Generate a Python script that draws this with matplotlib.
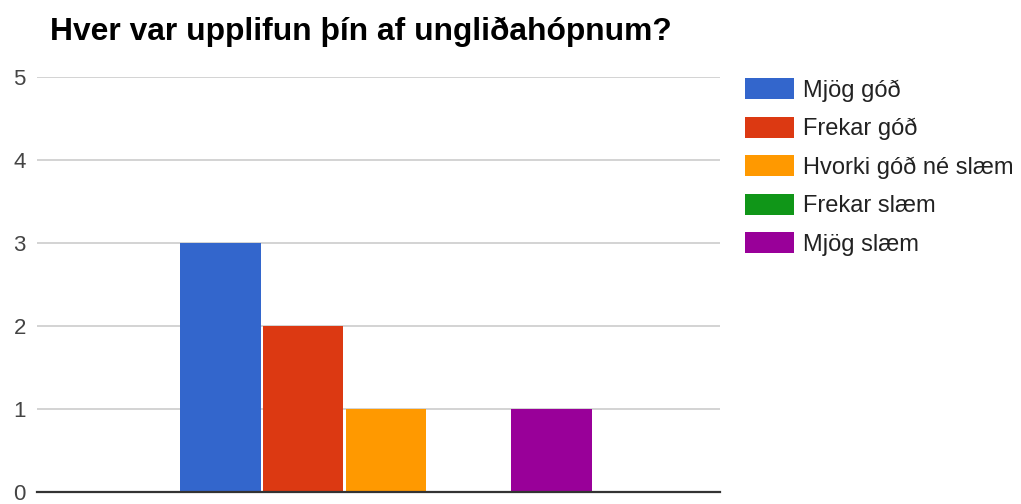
import matplotlib.pyplot as plt

plt.rcParams['font.family'] = ['Liberation Sans', 'DejaVu Sans']

labels = ['Mjög góð', 'Frekar góð', 'Hvorki góð né slæm', 'Frekar slæm', 'Mjög slæm']
counts = [3, 2, 1, 0, 1]
colors = ['#3366cc', '#dc3912', '#ff9900', '#109618', '#990099']
yticks = [0, 1, 2, 3, 4, 5]

fig = plt.figure(figsize=(10.21, 5.04), dpi=100)
ax = fig.add_axes([37 / 1021, 12 / 504, (720 - 37) / 1021, 415 / 504])

for i in range(len(labels)):
    ax.bar(i, counts[i], width=0.975, color=colors[i], label=labels[i], zorder=3)

ax.set_xlim(-2.21, 6.03)
ax.set_ylim(0, 5)
ax.set_yticks(yticks)
ax.set_xticks([])
ax.grid(axis='y', color='#cccccc', linewidth=1.2, zorder=0)
ax.tick_params(axis='y', length=0, labelsize=16, labelcolor='#444444', pad=8)
for s in ['top', 'right', 'left']:
    ax.spines[s].set_visible(False)
ax.spines['bottom'].set_color('#333333')
ax.spines['bottom'].set_linewidth(1.6)
ax.spines['bottom'].set_zorder(4)

fig.text(50 / 1021, 1 - 32 / 504, 'Hver var upplifun þín af ungliðahópnum?',
         fontsize=22.9, fontweight='bold', va='center', ha='left', color='#000000')

fig.legend(loc='upper left', bbox_to_anchor=(745 / 1021, 1 - 78 / 504),
           frameon=False, fontsize=17, handlelength=2.08, handleheight=1.0,
           labelspacing=0.63, handletextpad=0.38, borderpad=0, borderaxespad=0,
           labelcolor='#222222')

fig.savefig('out.png', dpi=100)
